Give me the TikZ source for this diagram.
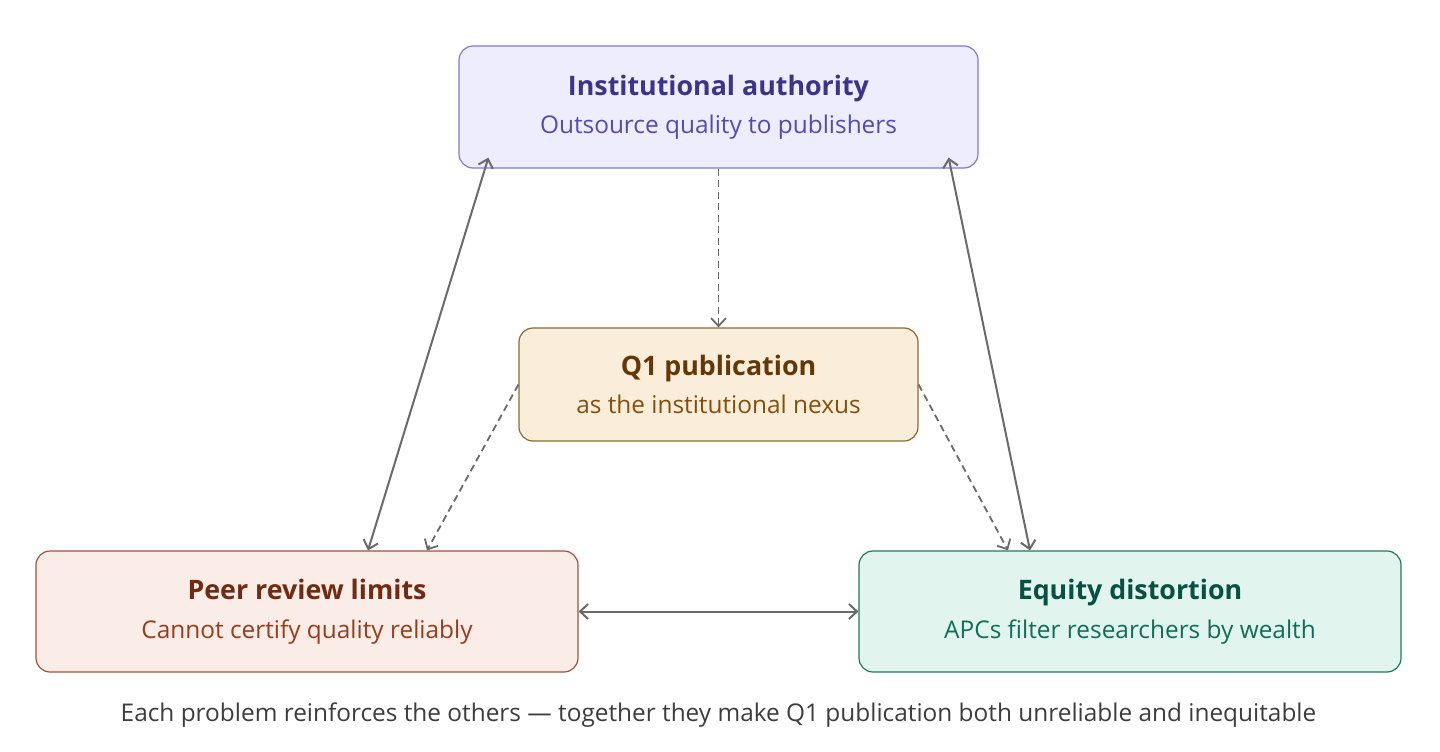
\documentclass[tikz,border=0pt]{standalone}
\usepackage{fontspec}
\setmainfont{Open Sans}
\usetikzlibrary{arrows.meta,calc}
\definecolor{iafill}{HTML}{EEEDFE}
\definecolor{iadraw}{HTML}{7F77DD}
\definecolor{iatitle}{HTML}{3C3489}
\definecolor{iasub}{HTML}{534AB7}
\definecolor{qfill}{HTML}{FAEEDA}
\definecolor{qdraw}{HTML}{8A6A2E}
\definecolor{qtitle}{HTML}{633806}
\definecolor{qsub}{HTML}{854F0B}
\definecolor{prfill}{HTML}{FAECE7}
\definecolor{prdraw}{HTML}{A0523A}
\definecolor{prtitle}{HTML}{712B13}
\definecolor{prsub}{HTML}{993C1D}
\definecolor{eqfill}{HTML}{E1F5EE}
\definecolor{eqdraw}{HTML}{1D7A60}
\definecolor{eqtitle}{HTML}{085041}
\definecolor{eqsub}{HTML}{0F6E56}
\definecolor{linkgray}{HTML}{6A6A6A}
\definecolor{captext}{HTML}{3D3D3D}

\begin{document}
\begin{tikzpicture}[x=1pt,y=-1pt,
    box/.style={rounded corners=14pt, line width=1.2pt, align=center,
        font=\fontsize{24.4}{38.5}\selectfont, inner sep=0pt},
    link/.style={linkgray, line width=2pt, {Straight Barb[length=8pt,width=15pt]}-{Straight Barb[length=8pt,width=15pt]}},
    feed/.style={linkgray, line width=1.8pt, dash pattern=on 7pt off 4.5pt, -{Straight Barb[length=8pt,width=15pt]}}]
    \useasboundingbox (0,0) rectangle (1440,752);

    % Boxes
    \node[box, fill=iafill, draw=iadraw, minimum width=519pt, minimum height=122pt] (ia) at (718.5,107)
        {{\color{iatitle}\fontsize{26.8}{38.5}\selectfont\bfseries Institutional authority}\\{\color{iasub}Outsource quality to publishers}};
    \node[box, fill=qfill, draw=qdraw, minimum width=399pt, minimum height=113pt] (q1) at (718.5,384.5)
        {{\color{qtitle}\fontsize{26.8}{38.5}\selectfont\bfseries Q1 publication}\\{\color{qsub}as the institutional nexus}};
    \node[box, fill=prfill, draw=prdraw, minimum width=542pt, minimum height=121pt] (peer) at (307,611.5)
        {{\color{prtitle}\fontsize{26.8}{38.5}\selectfont\bfseries Peer review limits}\\{\color{prsub}Cannot certify quality reliably}};
    \node[box, fill=eqfill, draw=eqdraw, minimum width=542pt, minimum height=121pt] (eq) at (1130,611.5)
        {{\color{eqtitle}\fontsize{26.8}{38.5}\selectfont\bfseries Equity distortion}\\{\color{eqsub}APCs filter researchers by wealth}};

    % Mutual reinforcement
    \draw[link] ($(ia.south west)+(30,-11)$) -- ($(peer.north)+(61,0)$);
    \draw[link] ($(ia.south east)+(-30,-11)$) -- ($(eq.north)+(-100,0)$);
    \draw[link] (peer.east) -- (eq.west);

    % Nexus links
    \draw[feed] (ia.south) -- (q1.north);
    \draw[feed] (q1.west) -- ($(peer.north)+(120,0)$);
    \draw[feed] (q1.east) -- ($(eq.north)+(-122,0)$);

    % Caption
    \node[font=\fontsize{24.4}{30}\selectfont, text=captext] (cap) at (718.5,715)
        {Each problem reinforces the others — together they make Q1 publication both unreliable and inequitable};
\end{tikzpicture}
\end{document}
